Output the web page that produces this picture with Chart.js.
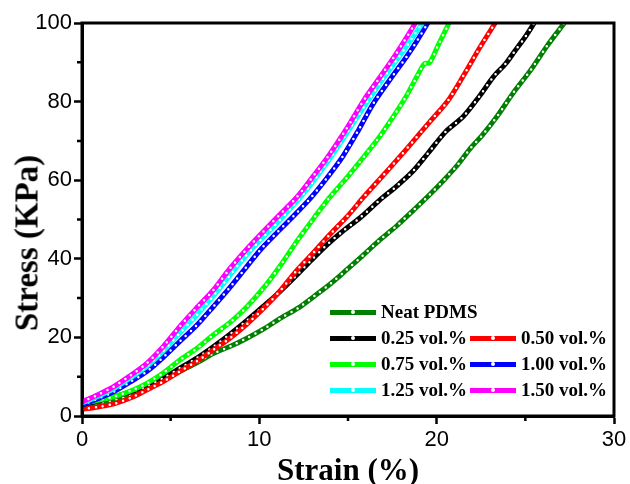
<!DOCTYPE html>
<html>
<head>
<meta charset="utf-8">
<script src="https://cdn.jsdelivr.net/npm/chart.js@4.4.1/dist/chart.umd.min.js"></script>
<style>
  body { margin: 0; background: #fff; }
  #wrap { position: relative; width: 630px; height: 484px; }
  #ytitle {
    position: absolute; left: 27px; top: 243px;
    transform: translate(-50%, -50%) rotate(-90deg);
    font: bold 33px "Liberation Serif", "Times New Roman", serif;
    white-space: nowrap; color: #000;
  }
  .row {
    position: absolute; display: flex; align-items: center; height: 26px;
    font: bold 19px "Liberation Serif", "Times New Roman", serif; color: #000;
    white-space: nowrap;
  }
  .swatch { position: relative; width: 46px; height: 5px; margin-right: 5px; }
  .swatch i {
    position: absolute; left: 21px; top: 0.5px; width: 4px; height: 4px;
    border-radius: 50%; background: #fff;
  }
</style>
</head>
<body>
<div id="wrap">
  <canvas id="chart" width="630" height="484"></canvas>
  <div id="ytitle">Stress (KPa)</div>
  <div id="legend"></div>
</div>
<script>
// strain (%) , stress (KPa)
var neatPDMS = [[0,2.8],[1,3.4],[1.8,4.1],[2.8,5.4],[3.65,7.0],[4.6,9.1],[5.5,11.3],[6.5,13.6],[7.4,15.9],[8.4,17.8],[9.3,19.8],[10.3,22.3],[11.2,24.9],[12.2,27.5],[13.1,30.5],[14,33.6],[14.9,37.1],[15.8,40.7],[16.8,44.8],[17.8,48.6],[18.7,52.4],[19.6,56.3],[20.4,60],[21.2,64],[21.9,68.1],[22.6,71.6],[23.4,76.2],[24.3,82.1],[25.3,88],[26.2,94],[27.2,100]];
var vol025 = [[0,2.8],[0.9,3.8],[1.8,4.9],[2.8,6.2],[3.7,7.6],[4.6,9.7],[5.5,12.1],[6.5,14.8],[7.4,17.6],[8.4,21],[9.3,24.3],[10.2,27.8],[11.2,31.8],[12.1,35.8],[12.9,39.5],[13.8,43.5],[14.7,47],[15.7,50.5],[16.8,55],[17.7,58.3],[18.6,62],[19.5,66.8],[20.5,72.3],[21.5,76.2],[22.4,81.3],[23.2,86.3],[23.9,89.7],[24.4,92.8],[25,96.5],[25.5,100]];
var vol050 = [[0,1.7],[0.9,2.3],[1.8,3.1],[2.8,4.7],[3.65,6.6],[4.6,8.8],[5.5,11.3],[6.5,14],[7.4,16.8],[8.4,20],[9.3,23.4],[10.2,27.2],[11.2,32],[12.1,37],[13.1,41.8],[14,46.3],[15,51],[15.9,55.8],[16.8,60.3],[17.75,65.1],[18.6,69.5],[19.6,74.8],[20.6,80],[21.5,86.5],[22.4,93.5],[23.3,100]];
var vol075 = [[0,3.2],[0.9,4],[1.8,4.9],[2.8,6.5],[3.65,8.3],[4.6,11],[5.5,14.2],[6.5,17.3],[7.4,20.6],[8.4,24],[9.3,27.8],[10.4,33.5],[11.3,39],[12.2,45],[13.1,50.5],[14,55.8],[15,61],[15.9,66],[16.8,71.2],[17.6,76.5],[18.3,81.5],[18.9,86.5],[19.3,89.6],[19.6,89.9],[20.1,94.5],[20.7,100]];
var vol100 = [[0,2.8],[0.9,4.4],[1.8,6.2],[2.7,8.6],[3.65,11.3],[4.6,15],[5.5,18.9],[6.5,23.2],[7.4,27.8],[8.3,32.5],[9.2,37.5],[10.1,42.5],[11,46.7],[12,51.2],[12.9,55.5],[13.8,60.5],[14.7,66],[15.6,72.8],[16.4,79.3],[17.4,85.8],[18.3,91.4],[18.9,95.5],[19.5,100]];
var vol125 = [[0,3.3],[0.9,5],[1.8,7],[2.7,9.6],[3.65,12.6],[4.6,16.6],[5.5,21],[6.5,25.8],[7.4,30.5],[8.3,35.5],[9.1,40],[10,44.5],[10.9,48.6],[11.8,53],[12.7,57.7],[13.5,62.5],[14.4,68.3],[15.3,74.5],[16.1,80],[17,86],[17.9,91.5],[18.6,96],[19.2,100]];
var vol150 = [[0,3.6],[0.9,5.4],[1.8,7.5],[2.7,10.2],[3.65,13.4],[4.6,17.8],[5.5,22.7],[6.4,27.2],[7.4,32],[8.3,37.3],[9.2,42],[10.2,46.8],[11.1,51],[12.1,55.6],[13,60.8],[13.9,66.2],[14.9,73],[15.9,80.4],[16.8,86.2],[17.6,91.4],[18.2,95.6],[18.8,100]];

var seriesData = [neatPDMS, vol025, vol050, vol075, vol100, vol125, vol150];
var seriesLabels = ["Neat PDMS", "0.25 vol.%", "0.50 vol.%", "0.75 vol.%", "1.00 vol.%", "1.25 vol.%", "1.50 vol.%"];
var seriesColors = ["#008000", "#000000", "#ff0000", "#00ff00", "#0000ff", "#00ffff", "#ff00ff"];

var xMinorTicks = [5, 15, 25];
var yMinorTicks = [10, 30, 50, 70, 90];

var datasets = [];
seriesData.forEach((d, i) => {
  var pts = d.map((p) => ({ x: p[0], y: p[1] }));
  datasets.push({
    label: seriesLabels[i],
    data: pts,
    borderColor: seriesColors[i],
    borderWidth: 5,
    borderJoinStyle: "round",
    pointRadius: 0,
    tension: 0.3,
    order: 2 * (6 - i) + 1,
  });
  // white dot markers along the line
  datasets.push({
    label: seriesLabels[i] + " markers",
    data: pts,
    borderColor: "#ffffff",
    borderWidth: 2.5,
    borderDash: [0, 7],
    borderCapStyle: "round",
    pointRadius: 0,
    tension: 0.3,
    order: 2 * (6 - i),
  });
});

// thick frame round the plot + short minor ticks
const framePlugin = {
  id: "frame",
  afterDraw(chart) {
    const a = chart.chartArea;
    const ctx = chart.ctx;
    const xs = chart.scales.x;
    const ys = chart.scales.y;
    ctx.save();
    ctx.strokeStyle = "#000";
    ctx.lineWidth = 3;
    ctx.strokeRect(a.left, a.top, a.right - a.left, a.bottom - a.top);
    ctx.lineWidth = 2.5;
    ctx.beginPath();
    xMinorTicks.forEach((v) => {
      const px = xs.getPixelForValue(v);
      ctx.moveTo(px, a.bottom);
      ctx.lineTo(px, a.bottom + 5);
    });
    yMinorTicks.forEach((v) => {
      const py = ys.getPixelForValue(v);
      ctx.moveTo(a.left, py);
      ctx.lineTo(a.left - 5, py);
    });
    ctx.stroke();
    ctx.restore();
  },
};

const tickFont = { family: "'Liberation Sans', Arial, sans-serif", size: 22 };

const ctx = document.getElementById("chart").getContext("2d");
const chart = new Chart(ctx, {
  type: "line",
  data: { datasets: datasets },
  options: {
    responsive: false,
    animation: false,
    layout: { padding: { left: 0, top: 23, right: 16, bottom: 0 } },
    plugins: { legend: { display: false }, tooltip: { enabled: false } },
    scales: {
      x: {
        type: "linear",
        min: 0,
        max: 30,
        afterFit: (s) => { s.height = 68; },
        ticks: { stepSize: 10, color: "#000", font: tickFont, padding: 3, maxRotation: 0 },
        grid: { drawOnChartArea: false, tickLength: 8, tickWidth: 2.5, tickColor: "#000" },
        border: { display: true, color: "#000", width: 3 },
        title: {
          display: true,
          text: "Strain (%)",
          color: "#000",
          font: { family: "'Liberation Serif', 'Times New Roman', serif", size: 31, weight: "bold", lineHeight: 0.8 },
          padding: { top: 0, bottom: 0 },
        },
      },
      y: {
        type: "linear",
        min: 0,
        max: 100,
        afterFit: (s) => { s.width = 82; },
        ticks: { stepSize: 20, color: "#000", font: tickFont, padding: 2 },
        grid: { drawOnChartArea: false, tickLength: 8, tickWidth: 2.5, tickColor: "#000" },
        border: { display: true, color: "#000", width: 3 },
      },
    },
  },
  plugins: [framePlugin],
});

// legend: first row single, then two columns
var legendPos = [
  [330, 312], [330, 338], [470, 338], [330, 364], [470, 364], [330, 390], [470, 390],
];
var legend = document.getElementById("legend");
seriesLabels.forEach((lab, i) => {
  var row = document.createElement("div");
  row.className = "row";
  row.style.left = legendPos[i][0] + "px";
  row.style.top = legendPos[i][1] - 13 + "px";
  var sw = document.createElement("span");
  sw.className = "swatch";
  sw.style.background = seriesColors[i];
  sw.appendChild(document.createElement("i"));
  row.appendChild(sw);
  row.appendChild(document.createTextNode(lab));
  legend.appendChild(row);
});
</script>
</body>
</html>
